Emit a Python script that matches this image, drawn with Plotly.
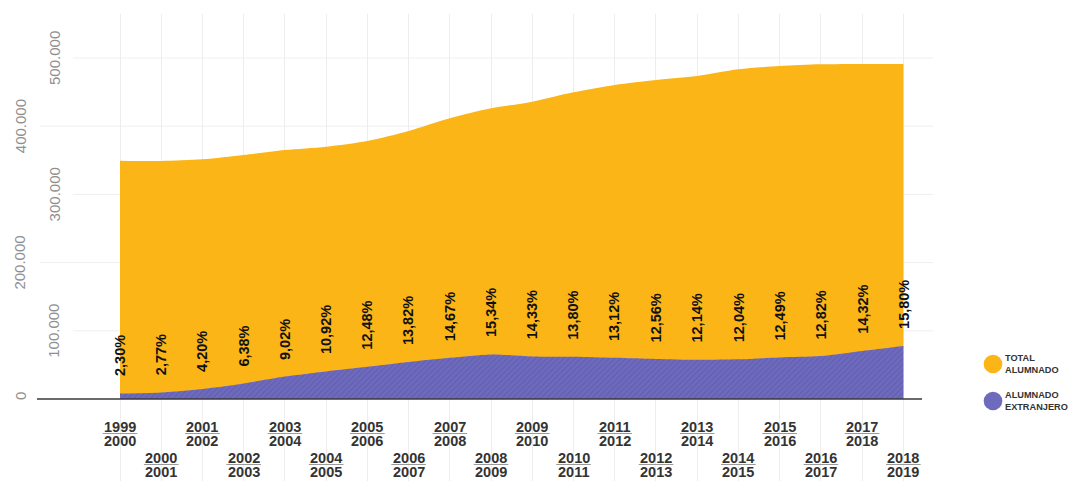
import plotly.graph_objects as go

# Curso escolar (dos años por etiqueta)
cursos_inicio = ["1999", "2000", "2001", "2002", "2003", "2004", "2005", "2006", "2007", "2008",
                 "2009", "2010", "2011", "2012", "2013", "2014", "2015", "2016", "2017", "2018"]
cursos_fin = ["2000", "2001", "2002", "2003", "2004", "2005", "2006", "2007", "2008", "2009",
              "2010", "2011", "2012", "2013", "2014", "2015", "2016", "2017", "2018", "2019"]

# Total de alumnado por curso
total_alumnado = [349400, 349000, 351500, 357800, 365000, 370000, 378300, 393000, 411600, 426200,
                  436000, 449700, 460400, 467700, 473600, 483400, 488300, 490700, 491200, 491300]

# Porcentaje de alumnado extranjero sobre el total
pct_extranjero = [2.30, 2.77, 4.20, 6.38, 9.02, 10.92, 12.48, 13.82, 14.67, 15.34,
                  14.33, 13.80, 13.12, 12.56, 12.14, 12.04, 12.49, 12.82, 14.32, 15.80]

# Etiquetas del eje vertical
y_ticks = [0, 100000, 200000, 300000, 400000, 500000]
y_tick_labels = ["0", "100.000", "200.000", "300.000", "400.000", "500.000"]

legend_labels = ["TOTAL<br>ALUMNADO", "ALUMNADO<br>EXTRANJERO"]

NARANJA = "#FBB517"
MORADO = "#6E6BBE"
MORADO_OSCURO = "#55529F"
FONT = "Liberation Sans, Arial, sans-serif"

alumnado_extranjero = [t * p / 100 for t, p in zip(total_alumnado, pct_extranjero)]
x = list(range(len(cursos_inicio)))

# Geometría del lienzo (px)
W, H = 1072, 481
ML, MR, MT, MB = 37, 150, 14, 0
PLOT_W = W - ML - MR
ZERO_PX = 399              # posición vertical del cero
PX_PER_100K = 68.2
FIRST_PX, STEP_PX = 120, 41.23

y_max = (ZERO_PX - MT) / PX_PER_100K * 100000
y_min = -(H - MB - ZERO_PX) / PX_PER_100K * 100000
x_lo = -(FIRST_PX - ML) / STEP_PX
x_hi = x_lo + PLOT_W / STEP_PX

fig = go.Figure()

fig.add_trace(go.Scatter(
    x=x, y=total_alumnado, mode="lines", fill="tozeroy",
    line=dict(width=0, color=NARANJA, shape="spline", smoothing=0.8),
    fillcolor=NARANJA, showlegend=False, hoverinfo="skip",
))
fig.add_trace(go.Scatter(
    x=x, y=alumnado_extranjero, mode="lines", fill="tozeroy",
    line=dict(width=0, color=MORADO, shape="spline", smoothing=0.8),
    fillcolor=MORADO,
    fillpattern=dict(shape="/", fgcolor=MORADO_OSCURO, bgcolor=MORADO, size=4, solidity=0.3),
    showlegend=False, hoverinfo="skip",
))

shapes = []
annotations = []

def px_to_paper(px):
    return (px - ML) / PLOT_W

# Líneas horizontales de referencia y etiquetas del eje Y (alternadas)
for i, (v, lab) in enumerate(zip(y_ticks, y_tick_labels)):
    label_px = 54 if i % 2 == 1 else 20
    grid_start = 73 if i % 2 == 1 else 40
    if v > 0:
        shapes.append(dict(type="line", xref="paper", yref="y",
                           x0=px_to_paper(grid_start), x1=px_to_paper(933), y0=v, y1=v,
                           line=dict(color="#EFEFEF", width=1), layer="below"))
    annotations.append(dict(xref="paper", yref="y", x=0, y=v, xshift=label_px - ML,
                            yshift=3 if v == 0 else 0,
                            text=lab, textangle=-90, showarrow=False,
                            xanchor="center", yanchor="middle",
                            font=dict(family=FONT, size=15, color="#8F8F8F")))

# Eje horizontal
shapes.append(dict(type="line", xref="paper", yref="y", x0=0, x1=1, y0=0, y1=0,
                   line=dict(color="#3A3A3A", width=1.4), layer="above"))

# Etiquetas de curso en dos filas alternas
for i in x:
    base = -28 if i % 2 == 0 else -59
    annotations.append(dict(xref="x", yref="y", x=i, y=0, yshift=base,
                            text="<b>%s</b>" % cursos_inicio[i], showarrow=False,
                            xanchor="center", yanchor="middle",
                            font=dict(family=FONT, size=14.5, color="#333333")))
    annotations.append(dict(xref="x", yref="y", x=i, y=0, yshift=base - 13.5,
                            text="<b>%s</b>" % cursos_fin[i], showarrow=False,
                            xanchor="center", yanchor="middle",
                            font=dict(family=FONT, size=14.5, color="#333333")))
    shapes.append(dict(type="line", xref="x", yref="y", ysizemode="pixel", yanchor=0,
                       x0=i - 0.42, x1=i + 0.42, y0=base - 6.5, y1=base - 6.5,
                       line=dict(color="#9A9A9A", width=1)))

# Porcentaje de alumnado extranjero sobre cada curso
for i in x:
    txt = ("%.2f%%" % pct_extranjero[i]).replace(".", ",")
    annotations.append(dict(xref="x", yref="y", x=i, y=alumnado_extranjero[i], yshift=15,
                            text="<b>%s</b>" % txt, textangle=-90, showarrow=False,
                            xanchor="center", yanchor="bottom",
                            font=dict(family=FONT, size=14.5, color="#111111")))

# Leyenda
for (center_px, color, lab) in [(364, NARANJA, legend_labels[0]), (401, MORADO, legend_labels[1])]:
    off = ZERO_PX - center_px
    shapes.append(dict(type="circle", xref="paper", yref="y", xsizemode="pixel",
                       ysizemode="pixel", xanchor=1, yanchor=0,
                       x0=993 - 9.3 - (ML + PLOT_W), x1=993 + 9.3 - (ML + PLOT_W),
                       y0=off - 9.3, y1=off + 9.3,
                       fillcolor=color, line=dict(width=0)))
    annotations.append(dict(xref="paper", yref="y", x=1, y=0, xshift=1004 - (ML + PLOT_W),
                            yshift=off, text="<b>%s</b>" % lab, showarrow=False,
                            xanchor="left", yanchor="middle", align="left", borderpad=0,
                            font=dict(family=FONT, size=9.2, color="#333333")))

fig.update_layout(
    width=W, height=H,
    margin=dict(l=ML, r=MR, t=MT, b=MB),
    paper_bgcolor="white", plot_bgcolor="white",
    xaxis=dict(range=[x_lo, x_hi], tickvals=x, showticklabels=False, showgrid=True,
               gridcolor="#EDEDED", gridwidth=1, zeroline=False, showline=False, fixedrange=True),
    yaxis=dict(range=[y_min, y_max], showgrid=False, showticklabels=False, zeroline=False,
               showline=False, fixedrange=True),
    shapes=shapes, annotations=annotations, showlegend=False,
)

fig.write_html("out.html")
